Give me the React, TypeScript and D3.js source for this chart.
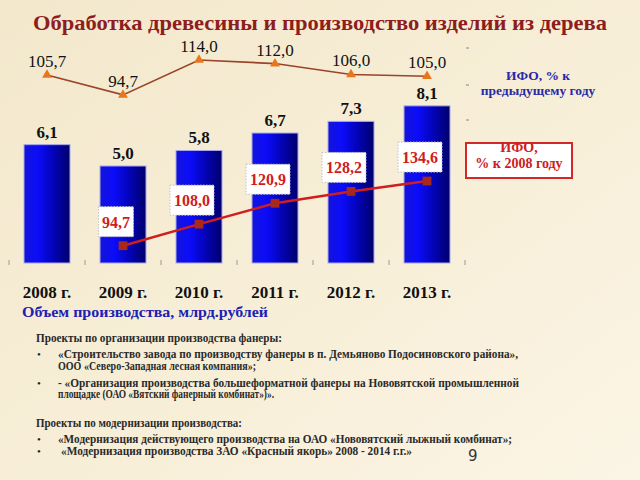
import React from "react";
import * as d3 from "d3";

const W = 640;
const H = 480;

const title = "Обработка древесины и производство изделий из дерева";
const years = ["2008 г.", "2009 г.", "2010 г.", "2011 г.", "2012 г.", "2013 г."];
const volume = [6.1, 5.0, 5.8, 6.7, 7.3, 8.1];
const ifoPrev = [105.7, 94.7, 114.0, 112.0, 106.0, 105.0];
const ifo2008Years = ["2009 г.", "2010 г.", "2011 г.", "2012 г.", "2013 г."];
const ifo2008 = [94.7, 108.0, 120.9, 128.2, 134.6];

const volumeLabel = "Объем производства, млрд.рублей";
const legendPrev = ["ИФО, % к", "предыдущему году"];
const legend2008 = ["ИФО,", "% к 2008 году"];

const notes = [
  { kind: "head", text: "Проекты по организации производства фанеры:" },
  { kind: "bullet", text: "«Строительство завода по производству фанеры в п. Демьяново Подосиновского района»," },
  { kind: "cont", text: "ООО «Северо-Западная лесная компания»;" },
  { kind: "bullet", text: "- «Организация производства большеформатной фанеры на Нововятской промышленной" },
  { kind: "cont", text: "площадке (ОАО «Вятский фанерный комбинат»)»." },
  { kind: "head", text: "Проекты по модернизации производства:" },
  { kind: "bullet", text: "«Модернизация действующего производства на ОАО «Нововятский лыжный комбинат»;" },
  { kind: "bullet", text: "«Модернизация производства ЗАО «Красный якорь» 2008 - 2014 г.г.»" },
];
const noteY = [341.7, 358.3, 370, 386.7, 398.3, 426.7, 443.3, 455];
const noteX = [36, 58, 58, 58, 58, 36, 58, 61];
const noteLen = [246, 460, 198, 461, 216, 206, 454, 351];

const fmt = (v: number) => d3.format(".1f")(v).replace(".", ",");

export default function App() {
  const x = d3
    .scaleBand<string>()
    .domain(years)
    .range([9, 465])
    .paddingInner(0.395)
    .paddingOuter(0.1975);
  const yBar = d3.scaleLinear().domain([0, 10]).range([263, 69]);
  const yPrev = d3.scaleLinear().domain([90, 120]).range([103.4, 49.1]);
  const y08 = d3.scaleLinear().domain([80, 140]).range([269.5, 172.3]);
  const cx = (c: string) => (x(c) as number) + x.bandwidth() / 2;

  const prevLine = d3
    .line<number>()
    .x((_, i) => cx(years[i]))
    .y((v) => yPrev(v));
  const line08 = d3
    .line<number>()
    .x((_, i) => cx(ifo2008Years[i]))
    .y((v) => y08(v));
  const tri = d3.symbol().type(d3.symbolTriangle).size(42)() as string;
  const sq = d3.symbol().type(d3.symbolSquare).size(78)() as string;

  const serif = "'Liberation Serif', 'Times New Roman', serif";
  const ticks = d3.range(years.length + 1).map((i) => 9 + i * x.step());

  return (
    <svg
      width={W}
      height={H}
      style={{ position: "absolute", left: 0, top: 0, display: "block" }}
      fontFamily={serif}
    >
      <defs>
        <linearGradient id="bg" x1="0" y1="0" x2="1" y2="1">
          <stop offset="0%" stopColor="#f3e8cc" />
          <stop offset="60%" stopColor="#f8efd9" />
          <stop offset="100%" stopColor="#fbf5e6" />
        </linearGradient>
        <linearGradient id="bar" x1="0" y1="0" x2="1" y2="0">
          <stop offset="0%" stopColor="#1414d8" />
          <stop offset="30%" stopColor="#0c0cfa" />
          <stop offset="60%" stopColor="#0404c0" />
          <stop offset="100%" stopColor="#00006a" />
        </linearGradient>
      </defs>
      <rect x={0} y={0} width={W} height={H} fill="url(#bg)" />

      <text
        x={33}
        y={30}
        fontSize={22}
        fontWeight="bold"
        fill="#8e1d1d"
        textLength={574}
        lengthAdjust="spacingAndGlyphs"
      >
        {title}
      </text>

      {/* small hidden-axis tick marks */}
      {[48, 85, 120].map((yy) => (
        <line key={yy} x1={466} x2={469} y1={yy} y2={yy} stroke="#888" strokeWidth={1} />
      ))}
      {ticks.map((tx) => (
        <line key={tx} x1={tx} x2={tx} y1={260} y2={265} stroke="#999" strokeWidth={1} />
      ))}

      {/* bars */}
      {volume.map((v, i) => (
        <g key={years[i]}>
          <rect
            x={x(years[i])}
            y={yBar(v)}
            width={x.bandwidth()}
            height={yBar(0) - yBar(v)}
            fill="url(#bar)"
            stroke="#a8a8e8"
            strokeWidth={1}
          />
          <text
            x={cx(years[i])}
            y={yBar(v) - 7}
            textAnchor="middle"
            fontSize={17}
            fontWeight="bold"
            fill="#111"
          >
            {fmt(v)}
          </text>
          <text
            x={cx(years[i])}
            y={298}
            textAnchor="middle"
            fontSize={17}
            fontWeight="bold"
            fill="#111"
          >
            {years[i]}
          </text>
        </g>
      ))}

      {/* IFO % to previous year */}
      <path d={prevLine(ifoPrev) as string} fill="none" stroke="#9a4428" strokeWidth={1.6} />
      {ifoPrev.map((v, i) => (
        <g key={"p" + i}>
          <path d={tri} transform={`translate(${cx(years[i])},${yPrev(v)})`} fill="#e8761c" />
          <text
            x={cx(years[i])}
            y={yPrev(v) - 8}
            textAnchor="middle"
            fontSize={17}
            fill="#111"
          >
            {fmt(v)}
          </text>
        </g>
      ))}

      {/* IFO % to 2008 */}
      <path d={line08(ifo2008) as string} fill="none" stroke="#d01e1e" strokeWidth={2.5} />
      {ifo2008.map((v, i) => {
        const px = cx(ifo2008Years[i]);
        const py = y08(v);
        const s = fmt(v);
        const bw = 9 * s.length - 1;
        const bcx = px - 7;
        const bcy = py - 24;
        return (
          <g key={"r" + i}>
            <path d={sq} transform={`translate(${px},${py})`} fill="#a8281a" />
            <rect
              x={bcx - bw / 2}
              y={bcy - 15}
              width={bw}
              height={30}
              fill="#ffffff"
              stroke="#c0c0c0"
              strokeWidth={1}
              strokeDasharray="1.5,1.5"
            />
            <text
              x={bcx}
              y={bcy + 6}
              textAnchor="middle"
              fontSize={16}
              fontWeight="bold"
              fill="#d01c1c"
            >
              {s}
            </text>
          </g>
        );
      })}

      {/* legends */}
      {legendPrev.map((t, i) => (
        <text
          key={t}
          x={538}
          y={80 + i * 15}
          textAnchor="middle"
          fontSize={13.5}
          fontWeight="bold"
          fill="#2828a8"
        >
          {t}
        </text>
      ))}
      <rect x={466} y={143} width={106} height={35} fill="#ffffff" stroke="#d42828" strokeWidth={2} />
      {legend2008.map((t, i) => (
        <text
          key={t}
          x={519}
          y={152 + i * 16}
          textAnchor="middle"
          fontSize={14}
          fontWeight="bold"
          fill="#cc2020"
        >
          {t}
        </text>
      ))}

      <text
        x={22}
        y={317}
        fontSize={15}
        fontWeight="bold"
        fill="#2020b4"
        textLength={246}
        lengthAdjust="spacingAndGlyphs"
      >
        {volumeLabel}
      </text>

      {/* notes */}
      {notes.map((n, i) => (
        <g key={"n" + i}>
          {n.kind === "bullet" && (
            <text x={37} y={noteY[i]} fontSize={11} fill="#222">
              •
            </text>
          )}
          <text
            x={noteX[i]}
            y={noteY[i]}
            fontSize={11.5}
            fontWeight="bold"
            fill="#2a2a2a"
            textLength={noteLen[i]}
            lengthAdjust="spacingAndGlyphs"
          >
            {n.text}
          </text>
        </g>
      ))}

      <text x={468} y={461} fontSize={15} fill="#333" fontFamily="'DejaVu Sans', Arial, sans-serif">
        9
      </text>
    </svg>
  );
}
